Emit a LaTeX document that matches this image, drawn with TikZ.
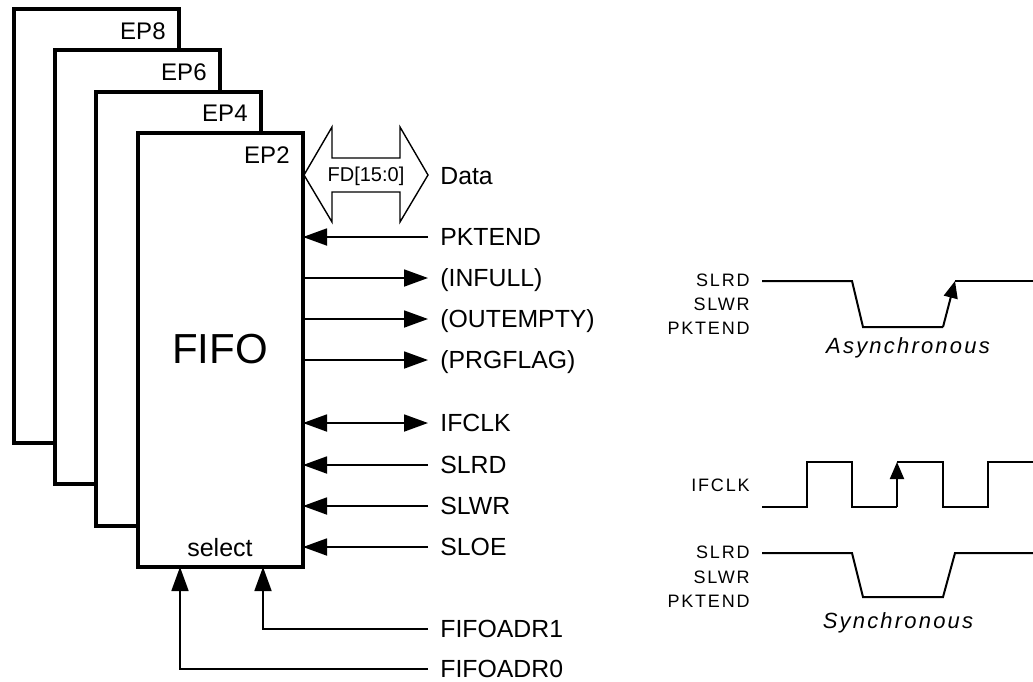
\documentclass[tikz,border=0pt]{standalone}
\usepackage{fontspec}
\setmainfont{Liberation Sans}
\newfontfamily\wideface{Liberation Sans}[LetterSpace=10]
\usetikzlibrary{arrows.meta}

\tikzset{
  bigtip/.tip={Triangle[length=12pt,width=8.5pt]},
  edgetip/.tip={Triangle[length=8.5pt,width=7pt]},
  epbox/.style={draw, line width=2pt, fill=white, anchor=north west, outer sep=0pt, minimum width=82.5pt, minimum height=217pt},
  eplabel/.style={anchor=north east, inner sep=0pt, font=\fontsize{12}{14}\selectfont},
  siglabel/.style={anchor=west, inner xsep=6pt, inner ysep=0pt, text height=8.9pt, text depth=0pt, font=\fontsize{12.4}{14}\selectfont},
  sigline/.style={line width=0.9pt},
  wavelabel/.style={anchor=east, inner sep=0pt, text height=6.5pt, text depth=0pt, font=\wideface\fontsize{9}{10}\selectfont},
  wave/.style={line width=1pt},
  caption/.style={anchor=base, inner sep=0pt, font=\wideface\itshape\fontsize{11}{13}\selectfont},
}

\begin{document}
\begin{tikzpicture}[x=0.5pt, y=-0.5pt]
    \useasboundingbox (0,0) rectangle (1033,681);

    % stacked endpoint buffers
    \node[epbox] (ep8) at (14,9) {};
    \node[eplabel] (ep8lbl) at ([xshift=-6.5pt,yshift=-6.5pt]ep8.north east) {EP8};
    \node[epbox] (ep6) at (55,50) {};
    \node[eplabel] (ep6lbl) at ([xshift=-6.5pt,yshift=-6.5pt]ep6.north east) {EP6};
    \node[epbox] (ep4) at (96,92) {};
    \node[eplabel] (ep4lbl) at ([xshift=-6.5pt,yshift=-6.5pt]ep4.north east) {EP4};
    \node[epbox] (ep2) at (138,133) {};
    \node[eplabel] (ep2lbl) at ([xshift=-6.5pt,yshift=-6.5pt]ep2.north east) {EP2};
    \node[font=\fontsize{21}{24}\selectfont] (fifo) at (220,349) {FIFO};
    \node[font=\fontsize{12.5}{14}\selectfont, inner sep=0pt] (select) at (220,548) {select};

    % data bus
    \draw[line width=0.7pt] (304,175) -- (332,127) -- (332,158) -- (400,158) -- (400,127)
        -- (428,175) -- (400,222) -- (400,192) -- (332,192) -- (332,222) -- cycle;
    \node[font=\fontsize{10}{12}\selectfont] (fd) at (366,176) {FD[15:0]};
    \node[siglabel] (data) at (428,176) {Data};

    % flag and strobe signals
    \node[siglabel] (pktend) at (428,237) {PKTEND};
    \node[siglabel] (infull) at (428,278) {(INFULL)};
    \node[siglabel] (outempty) at (428,319) {(OUTEMPTY)};
    \node[siglabel] (prgflag) at (428,360) {(PRGFLAG)};
    \node[siglabel] (ifclk) at (428,423) {IFCLK};
    \node[siglabel] (slrd) at (428,465) {SLRD};
    \node[siglabel] (slwr) at (428,506) {SLWR};
    \node[siglabel] (sloe) at (428,547) {SLOE};
    \node[siglabel] (adr1) at (428,629) {FIFOADR1};
    \node[siglabel] (adr0) at (428,669) {FIFOADR0};

    \draw[sigline, -{bigtip}] (pktend.west) -- (pktend.west -| ep2.east);
    \draw[sigline, -{bigtip}] (infull.west -| ep2.east) -- (infull.west);
    \draw[sigline, -{bigtip}] (outempty.west -| ep2.east) -- (outempty.west);
    \draw[sigline, -{bigtip}] (prgflag.west -| ep2.east) -- (prgflag.west);
    \draw[sigline, {bigtip}-{bigtip}] (ifclk.west -| ep2.east) -- (ifclk.west);
    \draw[sigline, -{bigtip}] (slrd.west) -- (slrd.west -| ep2.east);
    \draw[sigline, -{bigtip}] (slwr.west) -- (slwr.west -| ep2.east);
    \draw[sigline, -{bigtip}] (sloe.west) -- (sloe.west -| ep2.east);
    \draw[sigline, -{bigtip}] (adr1.west) -| ([xshift=21.25pt]ep2.south);
    \draw[sigline, -{bigtip}] (adr0.west) -| ([xshift=-20.25pt]ep2.south);

    % asynchronous timing
    \node[wavelabel] (aslrd) at (750,280) {SLRD};
    \node[wavelabel] (aslwr) at (750,304) {SLWR};
    \node[wavelabel] (apkt) at (750,328) {PKTEND};
    \draw[wave] (762,281) -- (852,281) -- (863,327) -- (943,327);
    \draw[wave, -{edgetip}] (943,327) -- (955,281);
    \draw[wave] (955,281) -- (1033,281);
    \node[caption] (async) at (908,353) {Asynchronous};

    % synchronous timing
    \node[wavelabel] (sclk) at (750,485) {IFCLK};
    \node[wavelabel] (sslrd) at (750,552) {SLRD};
    \node[wavelabel] (sslwr) at (750,577) {SLWR};
    \node[wavelabel] (spkt) at (750,601) {PKTEND};
    \draw[wave] (762,507) -- (807,507) -- (807,462) -- (852,462) -- (852,507) -- (897,507);
    \draw[wave, -{edgetip}] (897,507) -- (897,462);
    \draw[wave] (897,462) -- (943,462) -- (943,507) -- (988,507) -- (988,462) -- (1033,462);
    \draw[wave] (762,553) -- (852,553) -- (863,597) -- (943,597) -- (955,553) -- (1033,553);
    \node[caption] (sync) at (898,628) {Synchronous};
\end{tikzpicture}
\end{document}
